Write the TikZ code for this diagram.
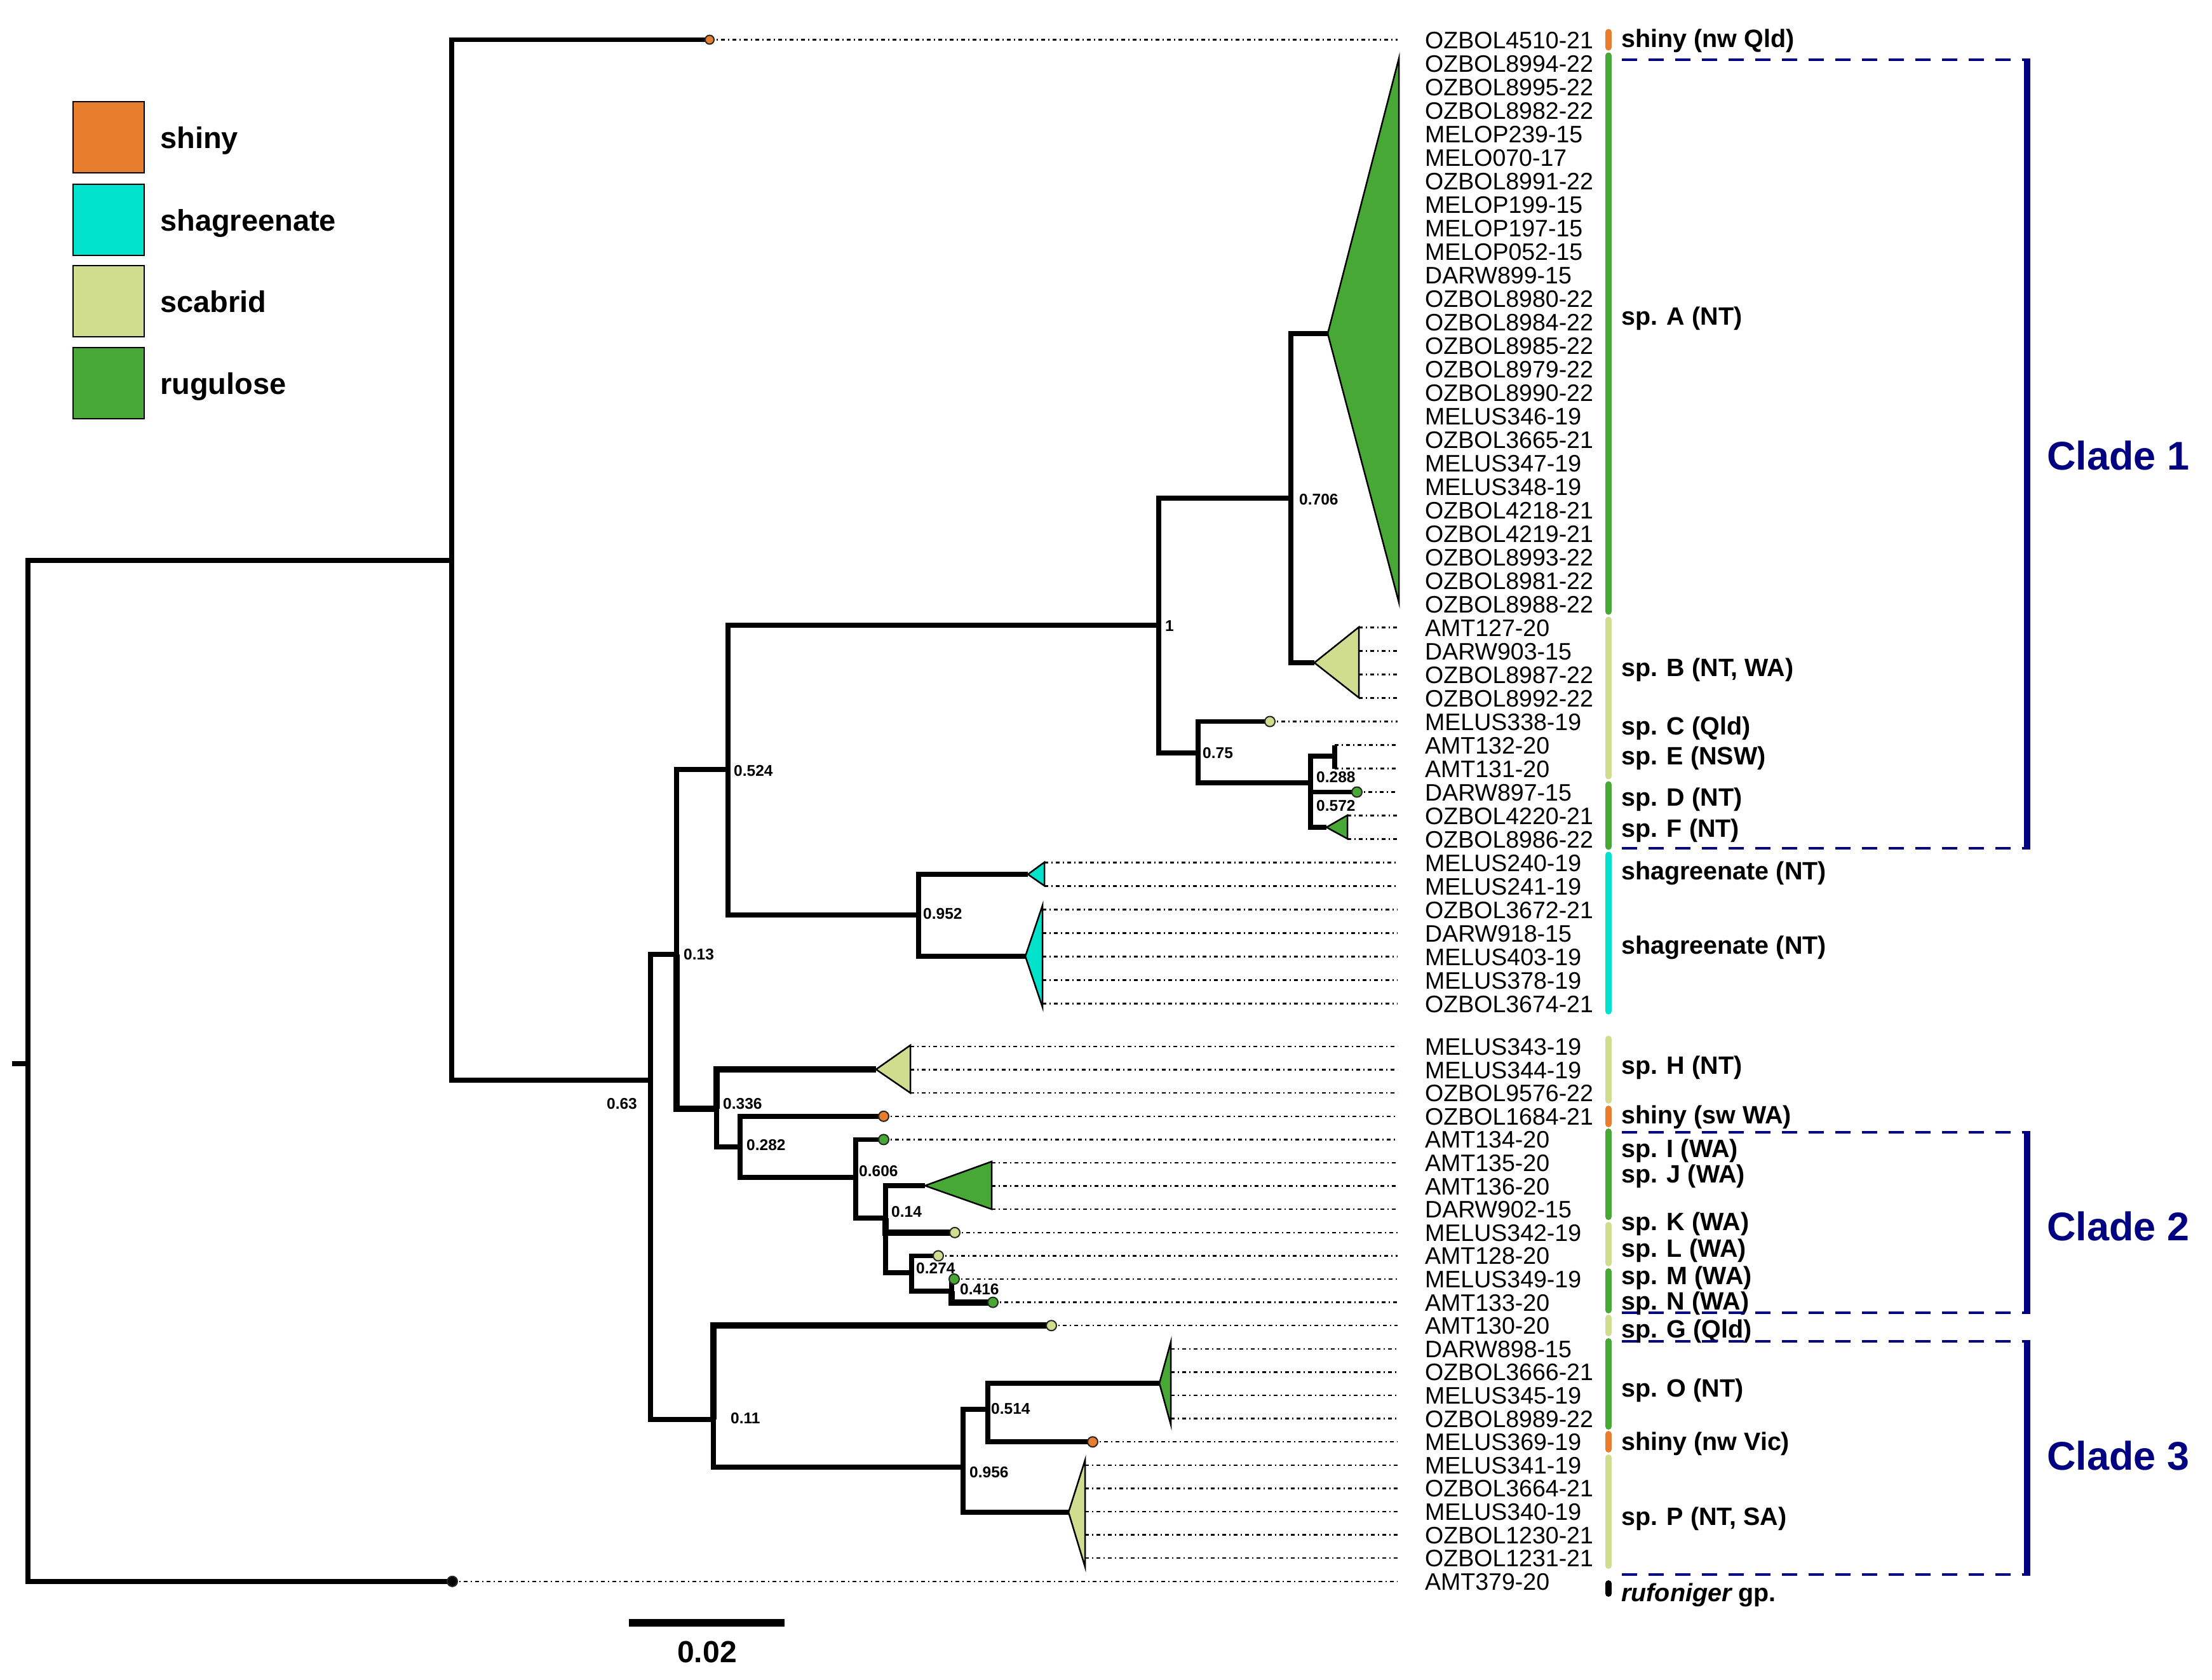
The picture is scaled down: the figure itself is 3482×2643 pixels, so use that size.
\documentclass[tikz,border=0pt]{standalone}
\usepackage{fontspec}
\setmainfont{Liberation Sans}
\definecolor{cshiny}{RGB}{232,125,46}
\definecolor{cshag}{RGB}{0,226,204}
\definecolor{cscab}{RGB}{208,220,142}
\definecolor{crug}{RGB}{72,168,54}
\definecolor{navy}{RGB}{0,0,128}
\tikzset{
 br/.style={line width=7.5pt, line join=miter},
 brk/.style={line width=10pt, line join=miter},
 lead/.style={line width=2.5pt, dash pattern=on 6pt off 5pt on 2pt off 5pt},
 tri/.style={draw=black, line width=2.5pt, line join=miter},
 tipdot/.style={circle, draw=black!85, line width=2pt, minimum size=16pt, inner sep=0pt},
 tiplab/.style={anchor=west, inner sep=0pt, font=\fontsize{37.5}{40}\selectfont, text height=27pt, text depth=0pt},
 bs/.style={anchor=west, inner sep=0pt, font=\bfseries\fontsize{24.5}{26}\selectfont, text height=17.5pt, text depth=0pt},
 grp/.style={anchor=west, inner sep=0pt, font=\bfseries\fontsize{39.5}{42}\selectfont, text height=28.5pt, text depth=0pt},
 bar/.style={line width=10pt, line cap=round},
 cladeline/.style={draw=navy, line width=10pt},
 cdash/.style={draw=navy, line width=4pt, dash pattern=on 24pt off 18pt},
 cladelab/.style={anchor=west, inner sep=0pt, text=navy, font=\bfseries\fontsize{63}{66}\selectfont, text height=45pt, text depth=0pt},
 legbox/.style={draw=black, line width=2.5pt, minimum width=112pt, minimum height=112pt, inner sep=0pt},
 leglab/.style={anchor=west, inner sep=0pt, font=\bfseries\fontsize{47}{50}\selectfont, text height=34pt, text depth=0pt}
}
\begin{document}
\begin{tikzpicture}[x=1pt,y=-1pt]
\useasboundingbox (0,0) rectangle (3482,2643);

% tip labels and leader lines
\foreach \x/\y/\t [count=\i] in {
1117/62.5/OZBOL4510-21,
2202/99.5/OZBOL8994-22,
2202/136.5/OZBOL8995-22,
2202/173.5/OZBOL8982-22,
2202/210.5/MELOP239-15,
2202/247.5/MELO070-17,
2202/284.5/OZBOL8991-22,
2202/321.5/MELOP199-15,
2202/358.5/MELOP197-15,
2202/395.5/MELOP052-15,
2202/432.5/DARW899-15,
2202/469.5/OZBOL8980-22,
2202/506.5/OZBOL8984-22,
2202/543.5/OZBOL8985-22,
2202/580.5/OZBOL8979-22,
2202/617.5/OZBOL8990-22,
2202/654.5/MELUS346-19,
2202/691.5/OZBOL3665-21,
2202/728.5/MELUS347-19,
2202/765.5/MELUS348-19,
2202/802.5/OZBOL4218-21,
2202/839.5/OZBOL4219-21,
2202/876.5/OZBOL8993-22,
2202/913.5/OZBOL8981-22,
2202/950.5/OZBOL8988-22,
2139/987.5/AMT127-20,
2139/1024.5/DARW903-15,
2139/1061.5/OZBOL8987-22,
2139/1098.5/OZBOL8992-22,
1999/1135.5/MELUS338-19,
2101/1172.5/AMT132-20,
2101/1209.5/AMT131-20,
2136/1246.5/DARW897-15,
2121/1283.5/OZBOL4220-21,
2121/1320.5/OZBOL8986-22,
1644/1357.5/MELUS240-19,
1644/1394.5/MELUS241-19,
1641/1431.5/OZBOL3672-21,
1641/1468.5/DARW918-15,
1641/1505.5/MELUS403-19,
1641/1542.5/MELUS378-19,
1641/1579.5/OZBOL3674-21,
1433/1647/MELUS343-19,
1433/1683.6/MELUS344-19,
1433/1720.2/OZBOL9576-22,
1391/1756.8/OZBOL1684-21,
1391/1793.4/AMT134-20,
1561/1830/AMT135-20,
1561/1866.6/AMT136-20,
1561/1903.2/DARW902-15,
1503/1939.8/MELUS342-19,
1477/1976.4/AMT128-20,
1502/2013/MELUS349-19,
1563/2049.6/AMT133-20,
1655/2086.2/AMT130-20,
1843/2122.8/DARW898-15,
1843/2159.4/OZBOL3666-21,
1843/2196/MELUS345-19,
1843/2232.6/OZBOL8989-22,
1720/2269.2/MELUS369-19,
1708/2305.8/MELUS341-19,
1708/2342.4/OZBOL3664-21,
1708/2379/MELUS340-19,
1708/2415.6/OZBOL1230-21,
1708/2452.2/OZBOL1231-21,
712/2488.8/AMT379-20}{
  \coordinate (ls\i) at (\x,\y);
  \coordinate (le\i) at (2200,\y);
  \ifdim\x pt<2190pt\relax \draw[lead] (ls\i) -- (le\i);\fi
  \node[tiplab] (lab\i) at (2243,\y) {\t};
}

% internal nodes
\coordinate (stub) at (19,1674);
\coordinate (root) at (44,1674);
\coordinate (A) at (711,882);
\coordinate (B) at (1024,1700);
\coordinate (N013) at (1065,1502);
\coordinate (N011) at (1123,2234);
\coordinate (N0524) at (1146,1211);
\coordinate (N0336) at (1128,1745);
\coordinate (N1) at (1824,984);
\coordinate (N0952) at (1446,1440);
\coordinate (N0706) at (2032,784);
\coordinate (N075) at (1886,1185);
\coordinate (Nx) at (2063,1232);
\coordinate (N0288) at (2101,1190);
\coordinate (N0282) at (1165,1805);
\coordinate (N0606) at (1347,1853);
\coordinate (N014) at (1394,1917);
\coordinate (N0274) at (1435,2003);
\coordinate (N0416) at (1498,2032);
\coordinate (N0956) at (1516,2309);
\coordinate (N0514) at (1555,2218);
% triangle apices
\coordinate (tA) at (2090,525);
\coordinate (tB) at (2069,1043);
\coordinate (tF) at (2088,1302);
\coordinate (tS1) at (1618,1376);
\coordinate (tS2) at (1614,1505);
\coordinate (tH) at (1379,1683);
\coordinate (tIJ) at (1456,1866);
\coordinate (tO) at (1825,2177);
\coordinate (tP) at (1682,2380);
% tip points
\coordinate (p1) at (1117,62.5);
\coordinate (pog) at (712,2488.8);
\coordinate (p30) at (1999,1135.5);
\coordinate (p31) at (2101,1172.5);
\coordinate (p32) at (2101,1209.5);
\coordinate (p33) at (2136,1246.5);
\coordinate (p46) at (1391,1756.8);
\coordinate (p47) at (1391,1793.4);
\coordinate (p51) at (1503,1939.8);
\coordinate (p52) at (1477,1976.4);
\coordinate (p53) at (1502,2013);
\coordinate (p54) at (1563,2049.6);
\coordinate (p55) at (1655,2086.2);
\coordinate (p60) at (1720,2269.2);

% branches
\draw[br] (stub) -- (root);
\draw[br] (root) |- (A);
\draw[br] (root) |- (pog);
\draw[br] (A) |- (p1);
\draw[br] (A) |- (B);
\draw[br] (B) |- (N013);
\draw[br] (B) |- (N011);
\draw[br] (N013) |- (N0524);
\draw[brk] (N013) |- (N0336);
\draw[br] (N0524) |- (N1);
\draw[br] (N0524) |- (N0952);
\draw[br] (N1) |- (N0706);
\draw[br] (N1) |- (N075);
\draw[br] (N0706) |- (tA);
\draw[br] (N0706) |- (tB);
\draw[br] (N075) |- (p30);
\draw[br] (N075) |- (Nx);
\draw[br] (Nx) |- (N0288);
\draw[br] (Nx) |- (p33);
\draw[br] (Nx) |- (tF);
\draw[br] (p31) -- (p32);
\draw[br] (N0952) |- (tS1);
\draw[br] (N0952) |- (tS2);
\draw[brk] (N0336) |- (tH);
\draw[br] (N0336) |- (N0282);
\draw[br] (N0282) |- (p46);
\draw[br] (N0282) |- (N0606);
\draw[br] (N0606) |- (p47);
\draw[br] (N0606) |- (N014);
\draw[br] (N014) |- (tIJ);
\draw[brk] (N014) |- (p51);
\draw[br] (N014) |- (N0274);
\draw[br] (N0274) |- (p52);
\draw[br] (N0274) |- (N0416);
\draw[br] (N0416) |- (p53);
\draw[brk] (N0416) |- (p54);
\draw[brk] (N011) |- (p55);
\draw[br] (N011) |- (N0956);
\draw[br] (N0956) |- (N0514);
\draw[br] (N0956) |- (tP);
\draw[br] (N0514) |- (tO);
\draw[br] (N0514) |- (p60);

% collapsed clades
\filldraw[tri, fill=crug] (tA) -- (2202,92) -- (2202,948) -- cycle;
\filldraw[tri, fill=cscab] (tB) -- (2139,987) -- (2139,1098) -- cycle;
\filldraw[tri, fill=crug] (tF) -- (2121,1283) -- (2121,1320) -- cycle;
\filldraw[tri, fill=cshag] (tS1) -- (1644,1357) -- (1644,1394) -- cycle;
\filldraw[tri, fill=cshag] (tS2) -- (1641,1425) -- (1641,1585) -- cycle;
\filldraw[tri, fill=cscab] (tH) -- (1433,1645) -- (1433,1720) -- cycle;
\filldraw[tri, fill=crug] (tIJ) -- (1561,1828) -- (1561,1903) -- cycle;
\filldraw[tri, fill=crug] (tO) -- (1843,2112) -- (1843,2242) -- cycle;
\filldraw[tri, fill=cscab] (tP) -- (1708,2298) -- (1708,2466) -- cycle;

% tip dots
\node[tipdot, fill=cshiny, minimum size=14pt] (d1) at (p1) {};
\node[tipdot, fill=black] (dog) at (pog) {};
\node[tipdot, fill=cscab] (d30) at (p30) {};
\node[tipdot, fill=crug] (d33) at (p33) {};
\node[tipdot, fill=cshiny] (d46) at (p46) {};
\node[tipdot, fill=crug] (d47) at (p47) {};
\node[tipdot, fill=cscab] (d51) at (p51) {};
\node[tipdot, fill=cscab] (d52) at (p52) {};
\node[tipdot, fill=crug] (d53) at (p53) {};
\node[tipdot, fill=crug] (d54) at (p54) {};
\node[tipdot, fill=cscab] (d55) at (p55) {};
\node[tipdot, fill=cshiny] (d60) at (p60) {};

% support values
\node[bs] (s1) at (1834,985) {1};
\node[bs] (s2) at (2045,786) {0.706};
\node[bs] (s3) at (1893,1185) {0.75};
\node[bs] (s4) at (2072,1223) {0.288};
\node[bs] (s5) at (2072,1268) {0.572};
\node[bs] (s6) at (1155,1213) {0.524};
\node[bs] (s7) at (1453,1438) {0.952};
\node[bs] (s8) at (1076,1502) {0.13};
\node[bs, anchor=east] (s9) at (1003,1737) {0.63};
\node[bs] (s10) at (1138,1737) {0.336};
\node[bs] (s11) at (1175,1802) {0.282};
\node[bs] (s12) at (1352,1843) {0.606};
\node[bs] (s13) at (1403,1907) {0.14};
\node[bs] (s14) at (1442,1996) {0.274};
\node[bs] (s15) at (1511,2029) {0.416};
\node[bs] (s16) at (1150,2232) {0.11};
\node[bs] (s17) at (1560,2217) {0.514};
\node[bs] (s18) at (1526,2317) {0.956};

% coloured bars
\draw[bar, cshiny] (2532,50.5) -- (2532,74.5);
\draw[bar, crug] (2532,87.5) -- (2532,962.5);
\draw[bar, cscab] (2532,975.5) -- (2532,1221.5);
\draw[bar, crug] (2532,1234.5) -- (2532,1332.5);
\draw[bar, cshag] (2532,1345.5) -- (2532,1591.5);
\draw[bar, cscab] (2532,1635) -- (2532,1732);
\draw[bar, cshiny] (2532,1745) -- (2532,1769);
\draw[bar, crug] (2532,1781) -- (2532,1915);
\draw[bar, cscab] (2532,1928) -- (2532,1988);
\draw[bar, crug] (2532,2001) -- (2532,2062);
\draw[bar, cscab] (2532,2074) -- (2532,2098);
\draw[bar, crug] (2532,2111) -- (2532,2245);
\draw[bar, cshiny] (2532,2257) -- (2532,2281);
\draw[bar, cscab] (2532,2294) -- (2532,2464);
\draw[bar, black] (2532,2492) -- (2532,2508);

% group labels
\node[grp] (g1) at (2552,60) {shiny (nw Qld)};
\node[grp] (g2) at (2552,497) {sp. A (NT)};
\node[grp] (g3) at (2552,1050) {sp. B (NT, WA)};
\node[grp] (g4) at (2552,1142) {sp. C (Qld)};
\node[grp] (g5) at (2552,1189) {sp. E (NSW)};
\node[grp] (g6) at (2552,1254) {sp. D (NT)};
\node[grp] (g7) at (2552,1303) {sp. F (NT)};
\node[grp] (g8) at (2552,1370) {shagreenate (NT)};
\node[grp] (g9) at (2552,1487) {shagreenate (NT)};
\node[grp] (g10) at (2552,1676) {sp. H (NT)};
\node[grp] (g11) at (2552,1754) {shiny (sw WA)};
\node[grp] (g12) at (2552,1807) {sp. I (WA)};
\node[grp] (g13) at (2552,1847) {sp. J (WA)};
\node[grp] (g14) at (2552,1922) {sp. K (WA)};
\node[grp] (g15) at (2552,1964) {sp. L (WA)};
\node[grp] (g16) at (2552,2007) {sp. M (WA)};
\node[grp] (g17) at (2552,2047) {sp. N (WA)};
\node[grp] (g18) at (2552,2091) {sp. G (Qld)};
\node[grp] (g19) at (2552,2184) {sp. O (NT)};
\node[grp] (g20) at (2552,2268) {shiny (nw Vic)};
\node[grp] (g21) at (2552,2386) {sp. P (NT, SA)};
\node[grp] (g22) at (2552,2506) {\itshape rufoniger\upshape{} gp.};

% clade brackets
\coordinate (c1a) at (2553,94);   \coordinate (c1b) at (3191,94);
\coordinate (c1c) at (2553,1335); \coordinate (c1d) at (3191,1335);
\coordinate (c2a) at (2553,1782); \coordinate (c2b) at (3191,1782);
\coordinate (c2c) at (2553,2066); \coordinate (c2d) at (3191,2066);
\coordinate (c3a) at (2553,2111); \coordinate (c3b) at (3191,2111);
\coordinate (c3c) at (2553,2478); \coordinate (c3d) at (3191,2478);
\draw[cdash] (c1a) -- (c1b);
\draw[cdash] (c1c) -- (c1d);
\draw[cdash] (c2a) -- (c2b);
\draw[cdash] (c2c) -- (c2d);
\draw[cdash] (c3a) -- (c3b);
\draw[cdash] (c3c) -- (c3d);
\draw[cladeline] ([yshift=2pt]c1b) -- ([yshift=-2pt]c1d);
\draw[cladeline] ([yshift=2pt]c2b) -- ([yshift=-2pt]c2d);
\draw[cladeline] ([yshift=2pt]c3b) -- ([yshift=-2pt]c3d);
\node[cladelab] (cl1) at (3222,717) {Clade 1};
\node[cladelab] (cl2) at (3222,1930) {Clade 2};
\node[cladelab] (cl3) at (3222,2291) {Clade 3};

% legend
\node[legbox, fill=cshiny] (L1) at (171,216) {};
\node[legbox, fill=cshag] (L2) at (171,346) {};
\node[legbox, fill=cscab] (L3) at (171,474) {};
\node[legbox, fill=crug] (L4) at (171,603) {};
\node[leglab] (LL1) at (252,216) {shiny};
\node[leglab] (LL2) at (252,346) {shagreenate};
\node[leglab] (LL3) at (252,474) {scabrid};
\node[leglab] (LL4) at (252,603) {rugulose};

% scale bar
\coordinate (sb1) at (990,2554);
\coordinate (sb2) at (1235,2554);
\draw[line width=12pt] (sb1) -- (sb2);
\node[inner sep=0pt, font=\bfseries\fontsize{48}{50}\selectfont, text height=35pt, text depth=0pt] (sbl) at (1113,2599) {0.02};
\end{tikzpicture}
\end{document}
